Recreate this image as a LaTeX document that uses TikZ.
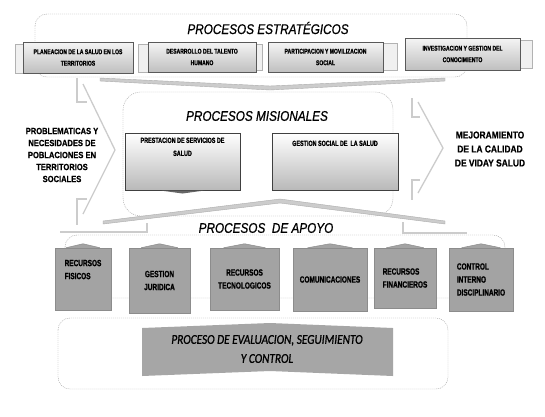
\documentclass[tikz,border=0pt]{standalone}
\usepackage{fontspec}
\setmainfont{Liberation Sans}
\newfontfamily\narrowfont[FakeStretch=0.72, FakeBold=1.2]{Liberation Sans}
\newfontfamily\sidefont[FakeStretch=0.84, FakeBold=0.6]{Liberation Sans}
\newfontfamily\titlefont[FakeStretch=0.84, FakeBold=0.8]{Liberation Sans}
\newfontfamily\evalfont[FakeStretch=0.84, FakeBold=1]{Carlito}
\usetikzlibrary{positioning,calc,shadows}

\tikzset{
  zone/.style={draw=gray!75, dash pattern=on 1pt off 1pt, rounded corners=12pt},
  ghost/.style={draw=gray!40, line width=1.3pt, line join=miter},
  wedge/.style={fill=gray!40, draw=gray!65, line width=0.4pt},
  title/.style={font=\titlefont\itshape\fontsize{14}{14}\selectfont, inner sep=0pt},
  tab/.style={fill=gray!12, draw=gray!60, line width=0.5pt},
  topbox/.style={top color=gray!8, bottom color=gray!50, draw=black!65, line width=0.6pt,
    minimum height=31pt, inner sep=1pt, align=center,
    font=\narrowfont\bfseries\fontsize{7}{11.5}\selectfont,
    drop shadow={opacity=.35, shadow xshift=.8pt, shadow yshift=-1.2pt}},
  misbox/.style={top color=white, bottom color=gray!55, draw=black!75, line width=1pt,
    minimum height=57pt, inner sep=0pt},
  boxtext/.style={font=\narrowfont\bfseries\fontsize{7.5}{13}\selectfont, align=center, inner sep=0pt},
  apoyo/.style={fill=black!36, draw=black!45, line width=0.5pt, minimum height=62pt,
    inner sep=2pt, font=\narrowfont\bfseries\fontsize{9}{13}\selectfont},
  sidetext/.style={font=\sidefont\bfseries\fontsize{9}{12}\selectfont, align=center, inner sep=0pt},
}

\begin{document}
\begin{tikzpicture}[x=1pt,y=-1pt]
\useasboundingbox[fill=white] (0,0) rectangle (545,416);

% dashed zones
\draw[zone] (35,14) rectangle (467,77);
\draw[zone, rounded corners=18pt] (123,92) rectangle (393,216);
\draw[zone] (65,235) rectangle (505,298);
\draw[zone] (58,318) rectangle (448,389);

% flat chevrons
\draw[wedge] (100,78) -- (270,86) -- (445,78) -- (445,81) -- (270,90) -- (100,81) -- cycle;
\draw[wedge] (103,221) -- (280,199) -- (445,221) -- (445,224) -- (280,203) -- (103,224) -- cycle;

% side arrows
\draw[ghost] (77,78) -- (77,102) -- (87,102);
\draw[ghost] (83,84) -- (115,150) -- (83,214);
\draw[ghost] (87,199) -- (77,199) -- (77,225);
\draw[ghost] (147,223) -- (147,232) -- (60,232);
\draw[ghost] (412,98) -- (412,117) -- (420,117);
\draw[ghost] (418,102) -- (443,148) -- (418,193);
\draw[ghost] (420,180) -- (412,180) -- (412,200);
\draw[ghost] (403,222) -- (403,233) -- (467,233);

% titles
\node[title] (estr) at (268,28) {PROCESOS ESTRATÉGICOS};
\node[title] (mis) at (257,116) {PROCESOS MISIONALES};
\node[title] (apo) at (266,228) {PROCESOS \ DE APOYO};

% strategic boxes
\draw[tab] (15,44) rectangle (25,73);
\draw[tab] (138,44) rectangle (149,72);
\draw[tab] (255,44) rectangle (262,70);
\draw[tab] (380,43) rectangle (397,70);
\draw[tab] (517,40) rectangle (532,68);
\node[topbox, minimum width=110pt] (plan) at (78,57.5) {PLANEACION DE LA SALUD EN LOS\\TERRITORIOS};
\node[topbox, minimum width=108pt, minimum height=30pt] (tale) at (202,57) {DESARROLLO DEL TALENTO\\HUMANO};
\node[topbox, minimum width=115pt, minimum height=30pt] (part) at (325.5,57) {PARTICIPACION Y MOVILIZACION\\SOCIAL};
\node[topbox, minimum width=115pt, minimum height=32pt] (inve) at (462.5,54) {INVESTIGACION Y GESTION DEL\\CONOCIMIENTO};

% side texts
\node[sidetext] (prob) at (62,155) {PROBLEMATICAS Y\\NECESIDADES DE\\POBLACIONES EN\\TERRITORIOS\\SOCIALES};
\node[sidetext, font=\sidefont\bfseries\fontsize{10}{14}\selectfont] (mejo) at (490,149) {MEJORAMIENTO\\DE LA CALIDAD\\DE VIDAY SALUD};

% mission boxes
\node[misbox, minimum width=115pt] (prest) at (182.5,161.5) {};
\fill[black!60] ($(prest.south)+(-22,0)$) -- ($(prest.south)+(0,3)$) -- ($(prest.south)+(22,0)$) -- cycle;
\node[boxtext, below=5pt of prest.north] (prestT) {PRESTACION DE SERVICIOS DE\\SALUD};
\node[misbox, minimum width=126pt] (gest) at (335,161.5) {};
\node[boxtext, below=8pt of gest.north] (gestT) {GESTION SOCIAL DE \ LA SALUD};

% support boxes
\node[apoyo, minimum width=56pt, align=left] (fis) at (83,279) {RECURSOS\\FISICOS\\[6pt]};
\node[apoyo, minimum width=61pt, minimum height=65pt, align=center] (jur) at (159.5,280.5) {GESTION\\JURIDICA};
\node[apoyo, minimum width=69pt, align=center] (tec) at (244.5,279) {RECURSOS\\TECNOLOGICOS};
\node[apoyo, minimum width=74pt, minimum height=63pt] (com) at (330,279.5) {COMUNICACIONES};
\node[apoyo, minimum width=62pt, minimum height=60pt, align=left] (fin) at (405,278) {RECURSOS\\FINANCIEROS};
\node[apoyo, minimum width=64pt, minimum height=63pt, align=left] (con) at (481,279.5) {CONTROL\\INTERNO\\DISCIPLINARIO};
\foreach \b in {fis,jur,tec,com,fin,con}
  \filldraw[black!36, draw=black!45, line width=0.5pt] ($(\b.north west)!.2!(\b.north east)$) -- ($(\b.north)+(0,-4)$) -- ($(\b.north west)!.8!(\b.north east)$);

% evaluation banner
\fill[black!35] (142,328) -- (270,323) -- (393,328) -- (393,376) -- (270,371) -- (142,376) -- cycle;
\node[font=\evalfont\itshape\fontsize{13.5}{19}\selectfont, align=center] (eval) at (267,349) {PROCESO DE EVALUACION, SEGUIMIENTO\\Y CONTROL};
\end{tikzpicture}
\end{document}
